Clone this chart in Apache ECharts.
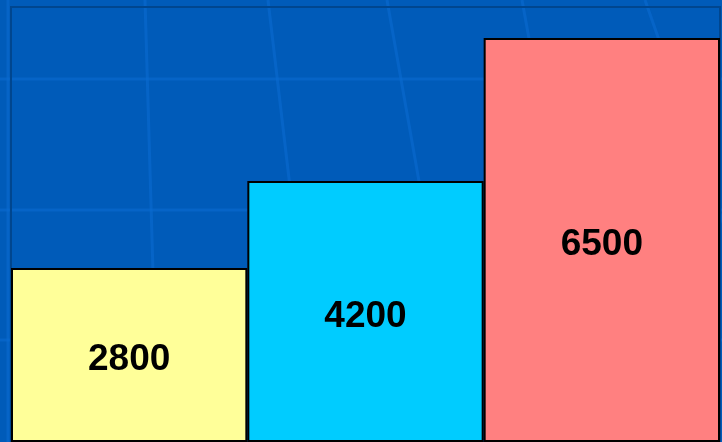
<!DOCTYPE html>
<html>
<head>
<meta charset="utf-8">
<script src="https://cdn.jsdelivr.net/npm/echarts@6/dist/echarts.min.js"></script>
<style>
html,body{margin:0;padding:0;background:#005bb9;}
#main{width:722px;height:442px;}
</style>
</head>
<body>
<div id="main"></div>
<script>
var categories = ['A', 'B', 'C'];
var values = [2800, 4200, 6500];
var barColors = ['#ffff99', '#00ccff', '#ff8080'];

var chart = echarts.init(document.getElementById('main'), null, {renderer: 'canvas'});

var bgLines = [
  [[0, 79], [722, 79]],
  [[0, 210], [722, 210]],
  [[0, 340], [722, 340]],
  [[8, 0], [8, 442]],
  [[145, 0], [158, 442]],
  [[268, 0], [320, 442]],
  [[387, 0], [465, 442]],
  [[522, 0], [602, 442]],
  [[645, 0], [800, 442]]
];

var graphics = bgLines.map(function (l) {
  return {
    type: 'line',
    z: -10,
    silent: true,
    shape: {x1: l[0][0], y1: l[0][1], x2: l[1][0], y2: l[1][1]},
    style: {stroke: '#0a6ad0', lineWidth: 3, opacity: 0.6}
  };
});

chart.setOption({
  backgroundColor: '#005bb9',
  animation: false,
  graphic: graphics,
  grid: {
    left: 11, right: 2, top: 7, bottom: -4,
    show: true,
    backgroundColor: 'transparent',
    borderColor: '#00468f',
    borderWidth: 2
  },
  xAxis: {
    type: 'category',
    data: categories,
    show: false
  },
  yAxis: {
    type: 'value',
    min: 0,
    max: 7000,
    show: false,
    splitLine: {show: false}
  },
  series: [{
    type: 'bar',
    barCategoryGap: 0,
    data: values.map(function (v, i) {
      return {value: v, itemStyle: {color: barColors[i]}};
    }),
    itemStyle: {borderColor: '#000000', borderWidth: 2},
    label: {
      show: true,
      position: 'inside',
      offset: [0, 5],
      color: '#000000',
      fontFamily: '"Liberation Sans", Arial, sans-serif',
      fontWeight: 'bold',
      fontSize: 37
    }
  }]
});
</script>
</body>
</html>
